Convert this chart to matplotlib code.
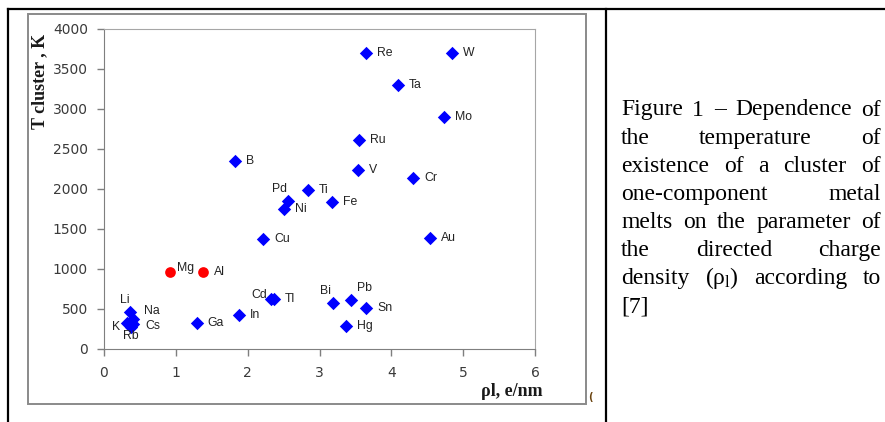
import matplotlib
matplotlib.use("Agg")
import matplotlib.pyplot as plt
from matplotlib.lines import Line2D
from matplotlib.patches import Rectangle

# Daten: rho_l (e/nm) und T cluster (K)
metals = ["Re", "W", "Ta", "Mo", "Ru", "V", "Cr", "B", "Ti", "Pd", "Ni", "Fe", "Cu", "Au",
          "Cd", "Tl", "In", "Ga", "Bi", "Pb", "Sn", "Hg", "Li", "Na", "K", "Rb", "Cs"]
rho = [3.65, 4.84, 4.09, 4.73, 3.55, 3.53, 4.30, 1.82, 2.84, 2.56, 2.50, 3.18, 2.22, 4.54,
       2.33, 2.37, 1.88, 1.29, 3.19, 3.44, 3.65, 3.37, 0.36, 0.40, 0.32, 0.37, 0.41]
t_cluster = [3700, 3700, 3300, 2900, 2610, 2230, 2140, 2350, 1990, 1850, 1750, 1830, 1370, 1380,
             630, 630, 430, 320, 570, 610, 510, 290, 460, 380, 330, 270, 310]

red_metals = ["Mg", "Al"]
red_rho = [0.92, 1.38]
red_t = [960, 960]

x_ticks = [0, 1, 2, 3, 4, 5, 6]
y_ticks = [0, 500, 1000, 1500, 2000, 2500, 3000, 3500, 4000]

caption = [
    "Figure 1 – Dependence of",
    "the temperature of",
    "existence of a cluster of",
    "one-component metal",
    "melts on the parameter of",
    "the directed charge",
    r"density (ρ$_\mathrm{l}$) according to",
    "[7]",
]

# Label-Verschiebungen in Pixel (dx, dy nach oben), sonst rechts daneben
label_pos = {
    "Pd": (-8, 12), "Cd": (-12, 4), "Li": (-5, 12), "Na": (19, 8), "K": (-11, -4),
    "Cs": (19, -2), "Rb": (0, -9), "Mg": (15, 4), "Bi": (-8, 12), "Pb": (13, 12),
}

W, H = 885, 422
def fx(x):
    return x / W
def fy(y):
    return 1 - y / H

plt.rcParams["mathtext.fontset"] = "custom"
plt.rcParams["mathtext.rm"] = "Liberation Serif"
plt.rcParams["mathtext.it"] = "Liberation Serif:italic"

fig = plt.figure(figsize=(8.85, 4.22), dpi=100)

# Tabellenlinien
fig.add_artist(Line2D([fx(7.5), 1], [fy(8.5), fy(8.5)], color="black", lw=1.6))
fig.add_artist(Line2D([fx(8), fx(8)], [fy(8.5), 0], color="black", lw=1.6))
fig.add_artist(Line2D([fx(605.5), fx(605.5)], [fy(8.5), 0], color="black", lw=1.6))

# Rahmen der Grafik
fig.add_artist(Rectangle((fx(27.5), fy(404)), fx(585.5) - fx(27.5), fy(13.5) - fy(404),
                         transform=fig.transFigure, fc="none", ec="#8a8a8a", lw=1.4))

ax = fig.add_axes([fx(104), fy(349), fx(535) - fx(104), fy(28.5) - fy(349)])
ax.set_xlim(0, 6)
ax.set_ylim(0, 4000)
ax.set_xticks(x_ticks)
ax.set_yticks(y_ticks)
for s in ["left", "bottom"]:
    ax.spines[s].set_color("#7f7f7f")
for s in ["top", "right"]:
    ax.spines[s].set_color("#a6a6a6")
ax.tick_params(direction="out", length=5, width=1, color="#7f7f7f",
               labelsize=10, labelcolor="#3a3a3a")
ax.tick_params(axis="x", pad=7.5)
ax.tick_params(axis="y", pad=6.5)

ax.scatter(rho, t_cluster, marker="D", s=6.8 ** 2, color="#0000ff", linewidths=0, zorder=3)
ax.scatter(red_rho, red_t, marker="o", s=7.7 ** 2, color="#ff0000", linewidths=0, zorder=3)

for name, x, y in list(zip(metals, rho, t_cluster)) + list(zip(red_metals, red_rho, red_t)):
    if name in label_pos:
        dx, dy = label_pos[name]
        ha = "center"
    else:
        dx, dy = 11, 0
        ha = "left"
    ax.annotate(name, (x, y), xytext=(dx * 0.72, dy * 0.72), textcoords="offset points",
                ha=ha, va="center", fontsize=8.8, color="#222222", family="Liberation Sans")

fig.text(fx(40), fy(81), "T cluster , K", rotation=90, ha="center", va="center",
         family="Liberation Serif", weight="bold", fontsize=13, color="#1a1a1a")
fig.text(fx(543), fy(391), "ρl, e/nm", ha="right", va="center",
         family="Liberation Serif", weight="bold", fontsize=13, color="#1a1a1a")
fig.text(fx(590), fy(397), "(", ha="center", va="center", fontsize=7,
         weight="bold", color="#6b4410")

# Bildunterschrift im Blocksatz
renderer = fig.canvas.get_renderer()
left, right = 621, 881
base0, step = 115.5, 28.1
for i, line in enumerate(caption):
    words = line.split(" ")
    texts = [fig.text(0, 0, w, ha="left", va="baseline", family="Liberation Serif",
                      fontsize=17, color="black") for w in words]
    widths = [t.get_window_extent(renderer).width for t in texts]
    if len(words) > 1 and i < len(caption) - 1:
        gap = (right - left - sum(widths)) / (len(words) - 1)
    else:
        gap = 6
    x = left
    for t, w in zip(texts, widths):
        t.set_position((fx(x), fy(base0 + i * step)))
        x += w + gap

plt.savefig("out.png", dpi=100)
